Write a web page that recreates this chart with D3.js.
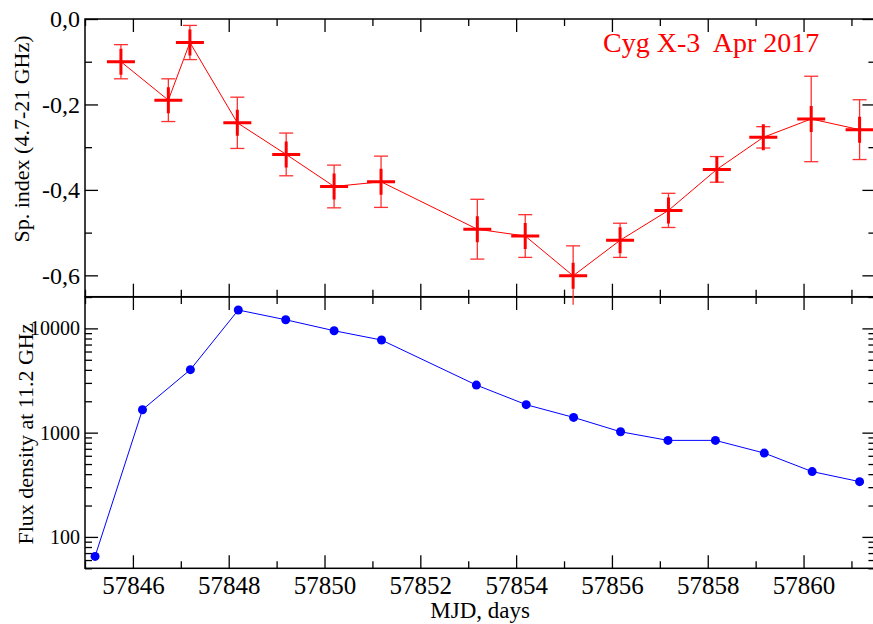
<!DOCTYPE html>
<meta charset="UTF-8">

<head>
    <script src="https://d3js.org/d3.v7.min.js"></script>
    <style>
        body { margin: 0; background: #fff; }
        text { font-family: "Liberation Serif", "Times New Roman", serif; fill: #000; }
        .frame { fill: none; stroke: #000; stroke-width: 1.5px; }
        .tick line { stroke: #000; stroke-width: 1.3px; }
    </style>
</head>

<body>
    <script>
        // spectral index (top panel)
        var spMjd = [57845.75, 57846.74, 57847.19, 57848.18, 57849.20, 57850.20, 57851.18, 57853.19,
            57854.19, 57855.19, 57856.17, 57857.18, 57858.19, 57859.16, 57860.16, 57861.17];
        var spIndex = [-0.100, -0.190, -0.055, -0.243, -0.317, -0.392, -0.381, -0.492,
            -0.508, -0.601, -0.518, -0.448, -0.352, -0.277, -0.234, -0.259];
        var spErr = [0.04, 0.05, 0.04, 0.06, 0.05, 0.05, 0.06, 0.07,
            0.05, 0.07, 0.04, 0.04, 0.03, 0.025, 0.10, 0.07];

        // flux density at 11.2 GHz (bottom panel)
        var fluxMjd = [57845.21, 57846.20, 57847.20, 57848.20, 57849.19, 57850.20, 57851.19, 57853.17,
            57854.21, 57855.20, 57856.18, 57857.17, 57858.16, 57859.18, 57860.18, 57861.17];
        var flux = [65, 1660, 4020, 15000, 12100, 9500, 7730, 2860,
            1855, 1400, 1020, 843, 843, 637, 423, 339];

        var xMajor = [57846, 57848, 57850, 57852, 57854, 57856, 57858, 57860];
        var xMinor = [57845, 57847, 57849, 57851, 57853, 57855, 57857, 57859, 57861];
        var spMajor = [0, -0.2, -0.4, -0.6];
        var spMinor = [-0.1, -0.3, -0.5];
        var fluxMajor = [100, 1000, 10000];

        var W = 873, H = 624;
        var left = 85, right = 875.4;
        var top1 = 19, bot1 = 296.7, top2 = 297, bot2 = 568.3;

        var svg = d3.select("body").append("svg")
            .attr("width", W).attr("height", H);

        var x = d3.scaleLinear().domain([57845, 57861.5]).range([left, right]);
        var ySp = d3.scaleLinear().domain([-0.65, 0]).range([bot1, top1]);
        var yFlux = d3.scaleLog().domain([50, 20000]).range([bot2, top2]);

        // minor ticks for the log axis
        var fluxMinor = [];
        [10, 100, 1000, 10000].forEach(function (d) {
            for (var k = 2; k <= 9; k++) {
                var v = d * k;
                if (v >= 50 && v <= 20000) fluxMinor.push(v);
            }
        });

        var MAJ = 13, MIN = 7;

        function ticks(axisFn, scale, vals, len, pos, fmt, pad) {
            var a = axisFn(scale).tickValues(vals).tickSizeInner(-len).tickSizeOuter(0)
                .tickPadding(pad || 0)
                .tickFormat(fmt || function () { return ""; });
            var g = svg.append("g").attr("transform", pos).call(a);
            g.select(".domain").remove();
            return g;
        }

        // x ticks on all four horizontal edges
        [[d3.axisTop, top1], [d3.axisBottom, bot1], [d3.axisTop, top2]].forEach(function (e) {
            ticks(e[0], x, xMajor, MAJ, "translate(0," + e[1] + ")");
            ticks(e[0], x, xMinor, MIN, "translate(0," + e[1] + ")");
        });
        var xb = ticks(d3.axisBottom, x, xMajor, MAJ, "translate(0," + bot2 + ")", d3.format("d"), 8);
        xb.selectAll("text").style("font-size", "25px");
        ticks(d3.axisBottom, x, xMinor, MIN, "translate(0," + bot2 + ")");

        // top panel y ticks
        var commaFmt = function (d) { return d3.format(".1f")(d).replace(".", ",").replace("\u2212", "-"); };
        var yl = ticks(d3.axisLeft, ySp, spMajor, MAJ, "translate(" + left + ",0)", commaFmt, 5);
        yl.selectAll("text").style("font-size", "24px");
        ticks(d3.axisLeft, ySp, spMinor, MIN, "translate(" + left + ",0)");
        ticks(d3.axisRight, ySp, spMajor, MAJ, "translate(" + right + ",0)");
        ticks(d3.axisRight, ySp, spMinor, MIN, "translate(" + right + ",0)");

        // bottom panel y ticks (log)
        var fl = ticks(d3.axisLeft, yFlux, fluxMajor, MAJ, "translate(" + left + ",0)", d3.format("d"), 5);
        fl.selectAll("text").style("font-size", "20px");
        ticks(d3.axisLeft, yFlux, fluxMinor, MIN, "translate(" + left + ",0)");
        ticks(d3.axisRight, yFlux, fluxMajor, MAJ, "translate(" + right + ",0)");
        ticks(d3.axisRight, yFlux, fluxMinor, MIN, "translate(" + right + ",0)");

        // frames
        svg.append("rect").attr("class", "frame")
            .attr("x", left).attr("y", top1).attr("width", right - left).attr("height", bot1 - top1);
        svg.append("rect").attr("class", "frame")
            .attr("x", left).attr("y", top2).attr("width", right - left).attr("height", bot2 - top2);

        // ****************** top panel: spectral index ******************
        var sp = spMjd.map(function (d, i) { return { x: d, y: spIndex[i], e: spErr[i] }; });

        svg.append("path").datum(sp)
            .attr("fill", "none").attr("stroke", "#ff0000").attr("stroke-width", 1)
            .attr("d", d3.line().x(function (d) { return x(d.x); }).y(function (d) { return ySp(d.y); }));

        var lowLimit = bot1 + 8;
        var eb = svg.append("g").attr("stroke", "#ff3030").attr("stroke-width", 1.3).attr("fill", "none");
        sp.forEach(function (d) {
            var cx = x(d.x), y0 = ySp(d.y + d.e), y1 = ySp(d.y - d.e);
            var clipped = y1 > lowLimit;
            if (clipped) y1 = lowLimit;
            eb.append("line").attr("x1", cx).attr("x2", cx).attr("y1", y0).attr("y2", y1);
            eb.append("line").attr("x1", cx - 7).attr("x2", cx + 7).attr("y1", y0).attr("y2", y0);
            if (!clipped) eb.append("line").attr("x1", cx - 7).attr("x2", cx + 7).attr("y1", y1).attr("y2", y1);
        });

        svg.append("g").selectAll("path.plus").data(sp).enter().append("path")
            .attr("class", "plus")
            .attr("fill", "none").attr("stroke", "#ff0000").attr("stroke-width", 3)
            .attr("d", function (d) {
                var cx = x(d.x), cy = ySp(d.y);
                return "M" + (cx - 14) + "," + cy + "H" + (cx + 14) + "M" + cx + "," + (cy - 13) + "V" + (cy + 13);
            });

        svg.append("text")
            .attr("x", 603).attr("y", 52)
            .style("font-size", "28px").style("fill", "#ff0000").style("white-space", "pre")
            .text("Cyg X-3  Apr 2017");

        // ****************** bottom panel: flux density ******************
        var fd = fluxMjd.map(function (d, i) { return { x: d, y: flux[i] }; });

        svg.append("path").datum(fd)
            .attr("fill", "none").attr("stroke", "#0000ff").attr("stroke-width", 1)
            .attr("d", d3.line().x(function (d) { return x(d.x); }).y(function (d) { return yFlux(d.y); }));

        svg.append("g").selectAll("circle").data(fd).enter().append("circle")
            .attr("cx", function (d) { return x(d.x); })
            .attr("cy", function (d) { return yFlux(d.y); })
            .attr("r", 4.5)
            .attr("fill", "#0000ff");

        // axis titles
        svg.append("text")
            .attr("transform", "translate(29,139) rotate(-90)")
            .attr("text-anchor", "middle").style("font-size", "22px")
            .text("Sp. index (4.7-21 GHz)");
        svg.append("text")
            .attr("transform", "translate(33,434) rotate(-90)")
            .attr("text-anchor", "middle").style("font-size", "22px")
            .text("Flux density at 11.2 GHz");
        svg.append("text")
            .attr("x", (left + right) / 2).attr("y", 618)
            .attr("text-anchor", "middle").style("font-size", "23px")
            .text("MJD, days");
    </script>
</body>
